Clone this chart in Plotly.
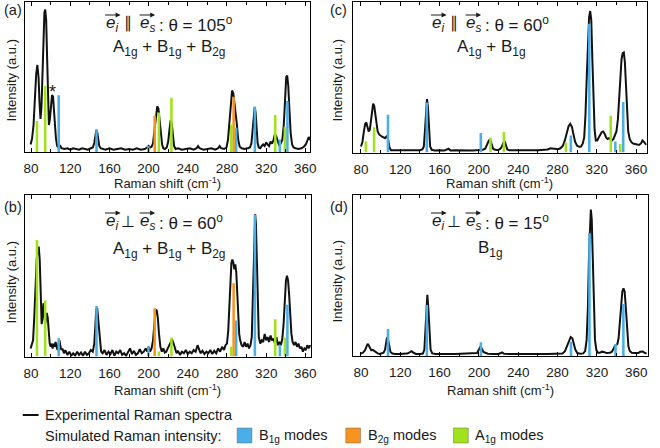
import plotly.graph_objects as go

W, H = 660, 448

# ---------------- data ----------------
# experimental spectra: (Raman shift, intensity in % of panel height)
spectrum_a = [(79.5, 5), (81, 9), (82.5, 18), (84, 38), (85.2, 52), (86.4, 58), (87.6, 50), (88.6, 33),
              (89.6, 22), (90.6, 30), (91.6, 55), (92.6, 80), (93.6, 93), (94.4, 95), (95.4, 88), (96.4, 62),
              (97.4, 30), (98.2, 18), (99.2, 22), (100.2, 32), (101.4, 38), (102.4, 37), (103.4, 30), (104.4, 18),
              (105.4, 9), (106.6, 4), (108, 3), (109.5, 4.5), (111, 2.5), (114, 2), (117, 2.5), (120, 1.5),
              (123, 2.5), (126, 2), (129, 1.5), (132, 2.5), (135, 2), (138, 1.5), (141, 2.5), (143, 3),
              (144.5, 6), (145.5, 11), (146.6, 14.5), (147.6, 13), (148.6, 8), (149.6, 4), (151, 2.5), (153, 2),
              (156, 1.5), (160, 2.5), (164, 1.5), (168, 2), (172, 2.5), (176, 1.5), (180, 2), (184, 1.5),
              (188, 2.5), (192, 1.5), (196, 2), (198.5, 3), (200, 4), (201.5, 3), (203, 3.5), (204.5, 6),
              (206, 14), (207.5, 26), (208.8, 30.5), (210, 29), (211.2, 22), (212.5, 12), (213.8, 5), (215, 2.5),
              (216.5, 2), (218.5, 3), (220, 7), (221.3, 15), (222.5, 21), (223.6, 19), (224.8, 10), (226, 4),
              (227.5, 2), (230, 2.5), (234, 1.5), (238, 2), (242, 2.5), (246, 1.5), (249, 2.5), (250.5, 4),
              (252, 2.5), (256, 1.5), (260, 2), (264, 2.5), (268, 1.5), (271, 2.5), (272.5, 4), (274, 2.5),
              (277, 2), (279.5, 3), (281, 8), (282.5, 20), (283.8, 34), (285.2, 41), (286.5, 39), (287.8, 32),
              (289, 27), (290.2, 18), (291.5, 8), (293, 3.5), (295, 2.5), (298, 2), (301, 2.5), (303.5, 3),
              (305, 6), (306.3, 15), (307.3, 25), (308.3, 30), (309.3, 26), (310.3, 15), (311.3, 6), (312.5, 3),
              (314, 2.5), (315.5, 4), (317, 5), (318.5, 4), (320, 6.5), (321.5, 5), (323, 4), (324.5, 7),
              (326, 5.5), (327.5, 8), (329, 12), (330.5, 10), (332, 6), (333.5, 4), (335, 6), (336.5, 8),
              (338, 18), (339.3, 37), (340.5, 50), (341.5, 51), (342.6, 44), (343.8, 28), (345, 13), (346.5, 5),
              (348, 3), (350, 2.5), (353, 2), (356, 2.5), (358.5, 3.5), (360.5, 5), (362, 8), (363.5, 10),
              (364.8, 8)]

spectrum_b = [(79.5, 5), (80.5, 7), (82, 10), (83.3, 25), (84.5, 48), (85.7, 60), (86.8, 66), (87.8, 68),
              (88.8, 60), (89.8, 40), (90.8, 20), (91.7, 24), (92.6, 33), (93.4, 30), (94.2, 20), (95, 22),
              (96, 27), (97, 24), (98, 12), (99, 8), (100, 6), (101, 8), (102, 5), (103, 8), (104, 6), (105, 9),
              (106, 6), (107, 4), (108, 8), (109, 10), (110, 6), (111, 4), (112, 5), (113.5, 2), (115, 4),
              (117, 1), (119, 3), (121, 0.5), (123, 2), (125, 0.5), (127, 3), (129, 1), (131, 2.5), (133, 0.5),
              (135, 3), (137, 1), (139, 2), (141, 4), (143, 3), (144.5, 8), (145.5, 18), (146.5, 29),
              (147.5, 30), (148.5, 24), (149.5, 16), (150.5, 8), (151.5, 3), (153, 2), (155, 4), (157, 1),
              (159, 3), (161, 1.5), (163, 4), (165, 0.5), (167, 3), (169, 2), (171, 4), (173, 1), (175, 2),
              (177, 0.5), (179, 2.5), (181, 5), (183, 1.5), (185, 3.5), (187, 1), (189, 2), (191, 4.5),
              (193, 2), (195, 3), (197, 5), (198.5, 3), (200, 6), (201.5, 3), (203, 5), (204.5, 10),
              (205.8, 20), (207, 28), (208.2, 29), (209.4, 24), (210.6, 14), (212, 6), (213.5, 3), (215, 5),
              (216.5, 2.5), (218, 3), (219.5, 5), (221, 7), (222.5, 9), (224, 10.5), (225.5, 8), (227, 4),
              (228.5, 2), (230, 3.5), (232, 1), (234, 3), (236, 2), (238, 4), (240, 1.5), (242, 3), (244, 2),
              (246, 4), (248, 3), (250, 7), (251.5, 5), (253, 2), (255, 3.5), (257, 1.5), (259, 3), (261, 2),
              (263, 4), (265, 1.5), (267, 3.5), (269, 2), (271, 5), (273, 3), (275, 6), (277, 4), (278.5, 7),
              (280, 8), (281.3, 16), (282.5, 33), (283.5, 48), (284.5, 58), (285.5, 60), (286.5, 58),
              (287.5, 54), (288.5, 57), (289.5, 52), (290.5, 38), (291.5, 24), (292.5, 14), (293.5, 10),
              (295, 7), (296.5, 6), (298, 9), (299.5, 6), (301, 8), (302.5, 5), (304, 7), (305.3, 12),
              (306.3, 35), (307.2, 65), (308, 85), (308.8, 88), (309.6, 82), (310.5, 55), (311.4, 25),
              (312.5, 12), (314, 8), (315.5, 10), (317, 9), (318.5, 14), (320, 10), (321.5, 12), (323, 9),
              (324.5, 13), (326, 10), (327.5, 11), (329, 8), (330.5, 12), (332, 7), (333.5, 9), (335, 7),
              (336.5, 11), (337.8, 20), (339, 38), (340.2, 47), (341.3, 50), (342.4, 47), (343.5, 38),
              (344.6, 25), (345.8, 14), (347, 9), (348.5, 7), (350, 9), (351.5, 6), (353, 8), (354.5, 5),
              (356, 6), (357.5, 3), (359, 5), (360.5, 4), (362, 7), (363.5, 5), (365, 7)]

spectrum_c = [(80, 4), (81.5, 7), (83, 14), (84.3, 19), (85.5, 20), (86.7, 17), (87.8, 14), (89, 15),
              (90.2, 22), (91.3, 30), (92.4, 32.5), (93.5, 31), (94.6, 25), (95.8, 18), (97, 14), (98.5, 12),
              (100, 11), (101.5, 10.5), (103, 10), (104.5, 9.5), (105.7, 10.5), (106.8, 11), (107.8, 8),
              (109, 3.5), (110.5, 1.5), (113, 1.5), (117, 1.2), (121, 1.5), (125, 1.2), (129, 1.5), (133, 1.3),
              (137, 1.6), (140, 1.5), (142.5, 2), (144, 4), (145.2, 15), (146.2, 30), (147.2, 35.5),
              (148.2, 30), (149.2, 15), (150.4, 4), (152, 1.8), (155, 1.3), (160, 1.5), (165, 1.3), (169, 2.5),
              (171, 1.4), (176, 1.5), (182, 1.3), (188, 1.5), (194, 1.4), (200, 1.6), (204, 1.8), (206.5, 2.5),
              (208.5, 5), (210.2, 8), (211.6, 8.5), (213, 5), (214.5, 2.5), (216.5, 1.8), (219, 1.6),
              (221.5, 2.2), (223.5, 4), (225, 6.5), (226.3, 7.5), (227.5, 5), (229, 2), (231, 1.5), (236, 1.4),
              (242, 1.5), (248, 1.3), (254, 1.5), (260, 1.5), (266, 1.6), (270, 2), (273, 2.8), (275.5, 2.5),
              (278, 2), (280.5, 2.2), (283, 2.8), (285.5, 4.5), (287.5, 8), (289.5, 13), (291.3, 17.5),
              (293, 19), (294.7, 17), (296.3, 12), (298, 7), (300, 4.5), (302, 3.8), (304, 4), (305.8, 6),
              (307.2, 10), (308.5, 25), (309.8, 50), (311, 75), (312.2, 90), (313.3, 94), (314.4, 88),
              (315.5, 62), (316.6, 35), (317.8, 15), (319, 8), (320.5, 8), (322, 10), (323.5, 12), (325, 13.5),
              (326.5, 14), (328, 12.5), (329.5, 10), (331, 9), (332.5, 9.5), (334, 8.5), (335.5, 8), (337, 9),
              (338.5, 11), (340, 14), (341.5, 22), (342.8, 38), (344, 52), (345.2, 62), (346.4, 66),
              (347.5, 66.5), (348.6, 60), (349.7, 42), (350.8, 25), (352, 14), (353.5, 9), (355, 7), (357, 6),
              (359, 5.5), (361, 5), (363, 5), (365, 6), (366.5, 8), (368, 7), (369.5, 5.5), (370.5, 5)]

spectrum_d = [(80, 1.5), (82, 2), (84, 3.5), (85.5, 6), (86.8, 7.5), (88, 6.5), (89.3, 4.5), (90.5, 3.5),
              (92, 3.8), (93.5, 3.2), (95, 2.2), (97, 1.6), (99, 1.3), (101, 1.5), (103, 2), (104.5, 4),
              (105.5, 8), (106.5, 11.5), (107.5, 10.5), (108.5, 6), (110, 2.5), (112, 1.5), (115, 1.2),
              (119, 1.3), (123, 1.2), (127, 1.5), (129.5, 2.3), (131.5, 3), (133.5, 2), (136, 1.3), (140, 1.2),
              (143, 1.5), (144.5, 4), (145.5, 15), (146.5, 32), (147.5, 38), (148.5, 30), (149.5, 14),
              (150.8, 4), (152.5, 1.6), (156, 1.2), (162, 1.2), (168, 1.6), (170, 1.3), (176, 1.2), (182, 1.3),
              (188, 1.2), (194, 1.3), (198, 1.8), (200, 4), (201.5, 5.8), (203, 4.5), (204.5, 2.5), (206.5, 2),
              (209, 1.4), (214, 1.3), (220, 1.3), (223.5, 2.2), (225.5, 1.4), (232, 1.2), (240, 1.3), (248, 1.2),
              (251, 1.6), (254, 1.2), (262, 1.3), (270, 1.2), (276, 1.2), (282, 1.3), (285, 1.6), (287.5, 3),
              (289.5, 6), (291.5, 9.5), (293.3, 11.8), (295, 11), (296.5, 8), (298, 4), (300, 1.8), (303, 1.4),
              (306, 1.6), (308, 3), (309.5, 10), (310.8, 30), (312, 65), (313, 86), (313.8, 91), (314.7, 85),
              (315.7, 60), (316.8, 30), (318, 10), (319.5, 3.5), (321, 2), (323, 2), (325, 2.7), (327, 2.5),
              (330, 1.8), (333, 2), (335, 2.5), (336.5, 4), (338, 6), (339.5, 6.8), (340.8, 7.5), (342, 11),
              (343.3, 22), (344.6, 34), (345.8, 40), (347, 42), (348.2, 40), (349.4, 30), (350.6, 16), (352, 6),
              (353.5, 3), (355.5, 2), (358, 1.8), (360, 1.6), (362, 1.8), (364, 2.6), (366.5, 2.8), (368.5, 2),
              (370.5, 1.5)]

# simulated mode positions (as they appear in the left / right panels)
modes_left_b1g = [108.2, 146.8, 199.8, 289.4, 308.5, 334.0, 341.7]
modes_left_b2g = [206.2, 286.8]
modes_left_a1g = [86.0, 94.4, 210.5, 223.3, 284.4, 329.3, 339.1]
modes_right_b1g = [107.5, 147.0, 202.0, 293.6, 312.4, 338.9, 346.9]
modes_right_a1g = [85.0, 93.4, 211.8, 225.5, 288.6, 334.2, 343.9]

# simulated intensities per panel
sim_a_b1g = [37.8, 15.1, 4.0, 16.2, 30.2, 8.4, 34.0]
sim_a_b2g = [24.2, 36.9]
sim_a_a1g = [20.7, 44.0, 26.4, 36.2, 18.4, 24.7, 16.9]
sim_b_b1g = [11.3, 31.3, 6.2, 22.3, 87.6, 7.2, 32.0]
sim_b_b2g = [29.9, 45.4]
sim_b_a1g = [72.2, 34.6, 3.1, 11.8, 6.2, 23.1, 11.8]
sim_c_b1g = [25.1, 33.3, 12.9, 11.3, 85.6, 7.3, 33.6]
sim_c_a1g = [7.3, 16.7, 10.0, 13.6, 6.7, 24.4, 5.6]
sim_d_b1g = [16.8, 31.7, 8.5, 8.9, 76.2, 7.5, 32.3]

tick_values = [80, 120, 160, 200, 240, 280, 320, 360]
tick_labels = ["80", "120", "160", "200", "240", "280", "320", "360"]

panel_letters = ["(a)", "(b)", "(c)", "(d)"]
panel_angles = ["105", "60", "60", "15"]
panel_relations = ["∥", "⊥", "∥", "⊥"]
panel_symmetry = ["A<sub>1g</sub> + B<sub>1g</sub> + B<sub>2g</sub>",
                  "A<sub>1g</sub> + B<sub>1g</sub> + B<sub>2g</sub>",
                  "A<sub>1g</sub> + B<sub>1g</sub>",
                  "B<sub>1g</sub>"]

# ---------------- styling ----------------
FONT = "Liberation Sans, Arial, Helvetica, sans-serif"
C_B1G = "#4aaee8"
C_B2G = "#f7931e"
C_A1G = "#a2e21c"
BAR_W = 2.6


def fx(px):
    return px / W


def fy(py):
    return 1 - py / H


# panel geometry in pixels: (left, right, top, bottom), x-range
panels = [
    dict(key="a", box=(23.5, 312, 2, 152), xr=[74, 365], spec=spectrum_a,
         bars=[(modes_left_b1g, sim_a_b1g, C_B1G), (modes_left_b2g, sim_a_b2g, C_B2G),
               (modes_left_a1g, sim_a_a1g, C_A1G)]),
    dict(key="b", box=(23.5, 313, 195, 356.5), xr=[74, 366], spec=spectrum_b,
         bars=[(modes_left_b1g, sim_b_b1g, C_B1G), (modes_left_b2g, sim_b_b2g, C_B2G),
               (modes_left_a1g, sim_b_a1g, C_A1G)]),
    dict(key="c", box=(355, 652.5, 2, 152.5), xr=[71.6, 370.7], spec=spectrum_c,
         bars=[(modes_right_b1g, sim_c_b1g, C_B1G), (modes_right_a1g, sim_c_a1g, C_A1G)]),
    dict(key="d", box=(355, 654, 195, 356), xr=[71.6, 372], spec=spectrum_d,
         bars=[(modes_right_b1g, sim_d_b1g, C_B1G)]),
]

fig = go.Figure()
layout = dict(
    width=W, height=H, margin=dict(l=0, r=0, t=0, b=0),
    paper_bgcolor="white", plot_bgcolor="white", showlegend=False,
    barmode="overlay", font=dict(family=FONT, color="#1a1a1a"),
)

for i, p in enumerate(panels):
    n = i + 1
    nb = i + 5
    l, r, t, b = p["box"]
    xa = "xaxis" if n == 1 else f"xaxis{n}"
    ya = "yaxis" if n == 1 else f"yaxis{n}"
    xs = "x" if n == 1 else f"x{n}"
    ys = "y" if n == 1 else f"y{n}"
    layout[xa] = dict(domain=[fx(l), fx(r)], range=p["xr"], anchor=ys,
                      showline=True, mirror="ticks", linecolor="black", linewidth=1,
                      ticks="inside", ticklen=4, tickwidth=1, tickcolor="black",
                      tickvals=tick_values, ticktext=tick_labels, ticklabelstandoff=4,
                      minor=dict(dtick=20, tick0=80, ticks="inside", ticklen=3, tickcolor="black"),
                      tickfont=dict(size=13.5, family=FONT, color="#1a1a1a"),
                      showgrid=False, zeroline=False, fixedrange=True)
    layout[ya] = dict(domain=[fy(b), fy(t)], range=[0, 100], anchor=xs,
                      showline=True, mirror=True, linecolor="black", linewidth=1,
                      ticks="", showticklabels=False, showgrid=False, zeroline=False, fixedrange=True)
    # overlay axes so that the simulated bars are drawn above the spectrum
    layout[f"xaxis{nb}"] = dict(overlaying=xs, range=p["xr"], anchor=f"y{nb}", visible=False,
                                 fixedrange=True)
    layout[f"yaxis{nb}"] = dict(overlaying=ys, range=[0, 100], anchor=f"x{nb}", visible=False,
                                 fixedrange=True)

    sx = [q[0] for q in p["spec"]]
    sy = [q[1] for q in p["spec"]]
    fig.add_trace(go.Scatter(x=sx, y=sy, mode="lines", xaxis=xs, yaxis=ys,
                             line=dict(color="#111111", width=2), hoverinfo="skip"))
    for mx, my, col in p["bars"]:
        fig.add_trace(go.Bar(x=mx, y=my, width=BAR_W, xaxis=f"x{nb}", yaxis=f"y{nb}",
                             marker=dict(color=col, line=dict(width=0)), hoverinfo="skip"))

fig.update_layout(**layout)

ann = []
shapes = []


def text(px, py, s, size, xanchor="center", yanchor="middle", angle=0):
    ann.append(dict(x=fx(px), y=fy(py), xref="paper", yref="paper", text=s, showarrow=False,
                    xanchor=xanchor, yanchor=yanchor, textangle=angle,
                    font=dict(size=size, family=FONT, color="#1a1a1a")))


def vec_arrow(px0, px1, py):
    ann.append(dict(x=fx(px1), y=fy(py), xref="paper", yref="paper", text="", showarrow=True,
                    ax=px0 - px1, ay=0, arrowhead=2, arrowsize=0.9, arrowwidth=1.1,
                    arrowcolor="#1a1a1a", standoff=0, startstandoff=0))


# panel decorations: offsets (dx, line1 y, line2 y, letter y, xtitle x, xtitle y, ytitle y)
deco = [
    (0, 24, 48, 10, 168, 183, 80),
    (0, 222, 250, 207, 168, 390, 282),
    (330, 24, 48, 10, 504, 183, 80),
    (330, 222, 249, 207, 505, 390, 281),
]
line2_x = [169, 169, 495, 494]
for i in range(4):
    dx, y1, y2, yl, xtx, xty, yty = deco[i]
    text(11 + dx, yl, panel_letters[i], 14.5)
    text(103 + dx, y1, "<i>e<sub>i</sub></i>", 17, xanchor="left")
    text(128 + dx, y1 - 1, panel_relations[i], 16)
    text(138 + dx, y1, "<i>e<sub>s</sub></i>", 17, xanchor="left")
    text(157 + dx, y1, ": θ = " + panel_angles[i] + "<sup>o</sup>", 17, xanchor="left")
    vec_arrow(103 + dx, 120 + dx, y1 - 9)
    vec_arrow(138 + dx, 155 + dx, y1 - 9)
    text(line2_x[i], y2, panel_symmetry[i], 17)
    text(xtx, xty, "Raman shift (cm<sup>-1</sup>)", 13)
    text(9.5 + dx, yty, "Intensity (a.u.)", 13, angle=-90)

# asterisk on panel (a)
ann.append(dict(x=102.0, y=40, xref="x", yref="y", text="*", showarrow=False,
                font=dict(size=18, family=FONT, color="#1a1a1a")))

# legend (drawn by hand)
shapes.append(dict(type="line", xref="paper", yref="paper", x0=fx(21), x1=fx(37), y0=fy(415), y1=fy(415),
                   line=dict(color="#111111", width=2)))
text(42, 415, "Experimental Raman spectra", 14.5, xanchor="left")
text(42, 435.5, "Simulated Raman intensity:", 14.5, xanchor="left")
legend_items = [(238, C_B1G, "B<sub>1g</sub> modes"), (348, C_B2G, "B<sub>2g</sub> modes"),
                (457, C_A1G, "A<sub>1g</sub> modes")]
for lx, col, lab in legend_items:
    shapes.append(dict(type="rect", xref="paper", yref="paper", x0=fx(lx), x1=fx(lx + 15),
                       y0=fy(443), y1=fy(428), fillcolor=col,
                       line=dict(color="rgba(90,90,90,0.55)", width=0.8)))
    text(lx + 20, 435.5, lab, 14.5, xanchor="left")

fig.update_layout(annotations=ann, shapes=shapes)
fig.write_html("out.html", config={"displayModeBar": False},
               post_script="document.body.style.margin='0';document.body.style.overflow='hidden';")
